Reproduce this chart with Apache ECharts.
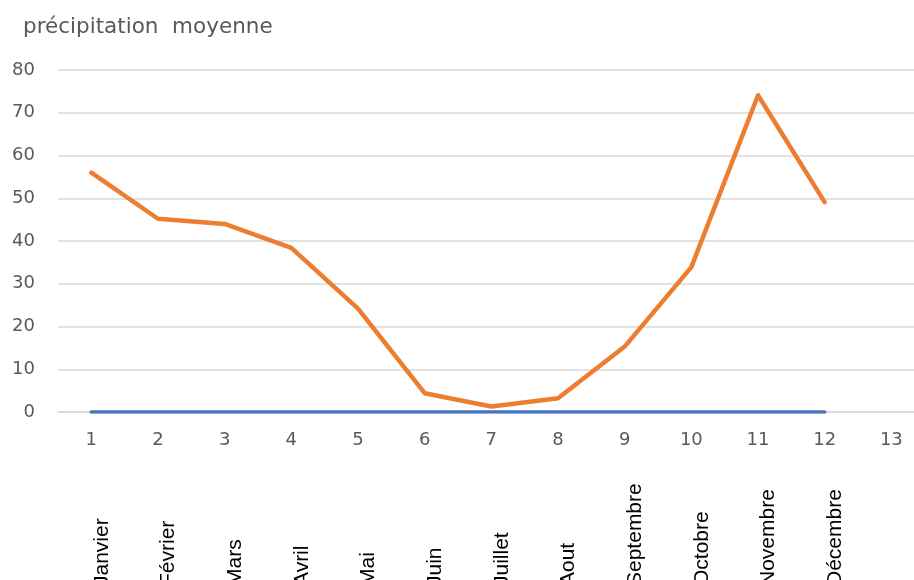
<!DOCTYPE html>
<html>
<head>
<meta charset="utf-8">
<script src="https://cdn.jsdelivr.net/npm/echarts@6/dist/echarts.min.js"></script>
<style>
  html, body { margin: 0; padding: 0; background: #fff; }
  #chart { width: 914px; height: 580px; }
</style>
</head>
<body>
<div id="chart"></div>
<script>
// Month index shown on the first axis, month names on the second
const monthIndex = ['1', '2', '3', '4', '5', '6', '7', '8', '9', '10', '11', '12', '13'];
const monthNames = ['Janvier', 'Février', 'Mars', 'Avril', 'Mai', 'Juin', 'Juillet', 'Aout',
  'Septembre', 'Octobre', 'Novembre', 'Décembre', ''];
// Mean precipitation per month
const precipitation = [56, 45.2, 44, 38.4, 24.2, 4.4, 1.3, 3.2, 15.3, 33.9, 74.1, 49.1];
// Baseline series
const baseline = [0, 0, 0, 0, 0, 0, 0, 0, 0, 0, 0, 0];
const yTicks = { min: 0, max: 80, interval: 10 };

const chart = echarts.init(document.getElementById('chart'), null, { renderer: 'canvas' });
chart.setOption({
  animation: false,
  backgroundColor: '#ffffff',
  title: {
    text: 'précipitation  moyenne',
    left: 18,
    top: 11,
    textStyle: { fontFamily: 'DejaVu Sans', fontSize: 21.5, fontWeight: 'normal', color: '#595959' }
  },
  grid: { left: 58, right: -10.7, top: 70, bottom: 168, outerBoundsMode: 'none', containLabel: false },
  xAxis: [
    {
      type: 'category',
      data: monthIndex,
      boundaryGap: true,
      axisLine: { show: true, lineStyle: { color: '#d9d9d9', width: 1.5 } },
      axisTick: { show: false },
      axisLabel: {
        interval: 0, margin: 19,
        fontFamily: 'DejaVu Sans', fontSize: 18, color: '#595959'
      },
      splitLine: { show: false }
    },
    {
      type: 'category',
      data: monthNames,
      position: 'bottom',
      boundaryGap: true,
      axisLine: { show: false },
      axisTick: { show: false },
      axisLabel: {
        interval: 0, rotate: 90, margin: 174,
        align: 'left', verticalAlign: 'top',
        fontFamily: 'Liberation Sans', fontSize: 21, color: '#000000'
      },
      splitLine: { show: false }
    }
  ],
  yAxis: {
    type: 'value',
    min: yTicks.min, max: yTicks.max, interval: yTicks.interval,
    axisLine: { show: false },
    axisTick: { show: false },
    axisLabel: { margin: 23, fontFamily: 'DejaVu Sans', fontSize: 18, color: '#595959' },
    splitLine: { lineStyle: { color: '#d9d9d9', width: 1.5 } }
  },
  series: [
    {
      type: 'line',
      data: baseline,
      symbol: 'none',
      lineStyle: { color: '#4472c4', width: 3.5, cap: 'round', join: 'round' },
      z: 3
    },
    {
      type: 'line',
      data: precipitation,
      symbol: 'none',
      lineStyle: { color: '#ed7d31', width: 4.5, cap: 'round', join: 'round' },
      z: 4
    }
  ]
});
</script>
</body>
</html>
